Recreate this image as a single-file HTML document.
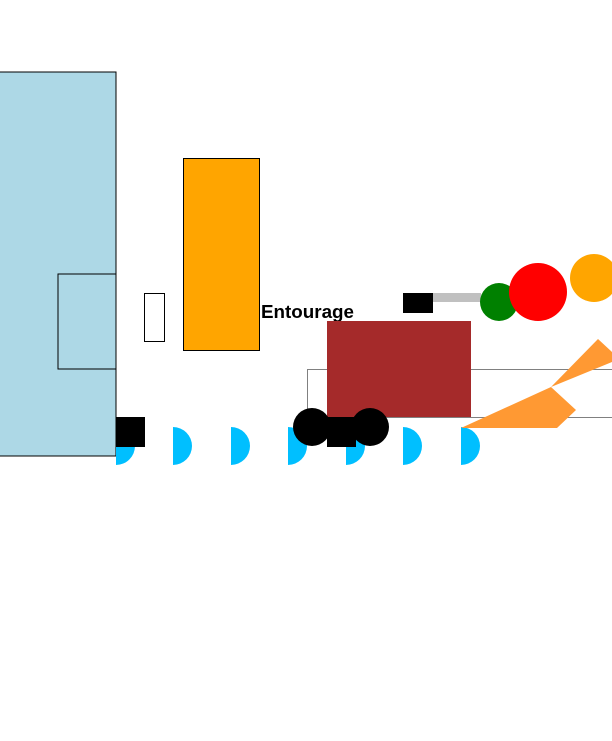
<!DOCTYPE html>
<html><head><style>body{margin:0;background:#fff;width:612px;height:736px;overflow:hidden}</style></head><body>
<svg width="612" height="736" xmlns="http://www.w3.org/2000/svg">
<rect x="-1" y="72" width="117" height="384" fill="#add8e6" stroke="#000"/>
<rect x="58" y="274" width="58" height="95" fill="none" stroke="#000"/>
<rect x="144.5" y="293.5" width="20" height="48" fill="#fff" stroke="#000"/>
<rect x="183.5" y="158.5" width="76" height="192" fill="#ffa500" stroke="#000"/>
<text x="261" y="318" font-family="Liberation Sans, sans-serif" font-size="18" font-weight="bold" fill="#000" textLength="93" lengthAdjust="spacingAndGlyphs">Entourage</text>
<rect x="307.5" y="369.5" width="310" height="48" fill="none" stroke="#808080"/>
<rect x="327" y="321" width="144" height="96" fill="#a52a2a"/>
<g fill="#00bfff">
<path d="M116,427 A19,19 0 0 1 116,465Z"/>
<path d="M173,427 A19,19 0 0 1 173,465Z"/>
<path d="M231,427 A19,19 0 0 1 231,465Z"/>
<path d="M288,427 A19,19 0 0 1 288,465Z"/>
<path d="M346,427 A19,19 0 0 1 346,465Z"/>
<path d="M403,427 A19,19 0 0 1 403,465Z"/>
<path d="M461,427 A19,19 0 0 1 461,465Z"/>
</g>
<rect x="116" y="417" width="29" height="30" fill="#000"/>
<circle cx="312" cy="427" r="19" fill="#000"/>
<circle cx="370" cy="427" r="19" fill="#000"/>
<rect x="327" y="417" width="29" height="30" fill="#000"/>
<polygon points="461,428 551,387 576,410 557,428" fill="#ff9933"/>
<polygon points="551,387 598,339 612,352 612,362" fill="#ff9933"/>
<rect x="433" y="293" width="48" height="9" fill="#c0c0c0"/>
<rect x="403" y="293" width="30" height="20" fill="#000"/>
<circle cx="499" cy="302" r="19" fill="#008000"/>
<circle cx="538" cy="292" r="29" fill="#ff0000"/>
<circle cx="594" cy="278" r="24" fill="#ffa500"/>
</svg>
</body></html>
